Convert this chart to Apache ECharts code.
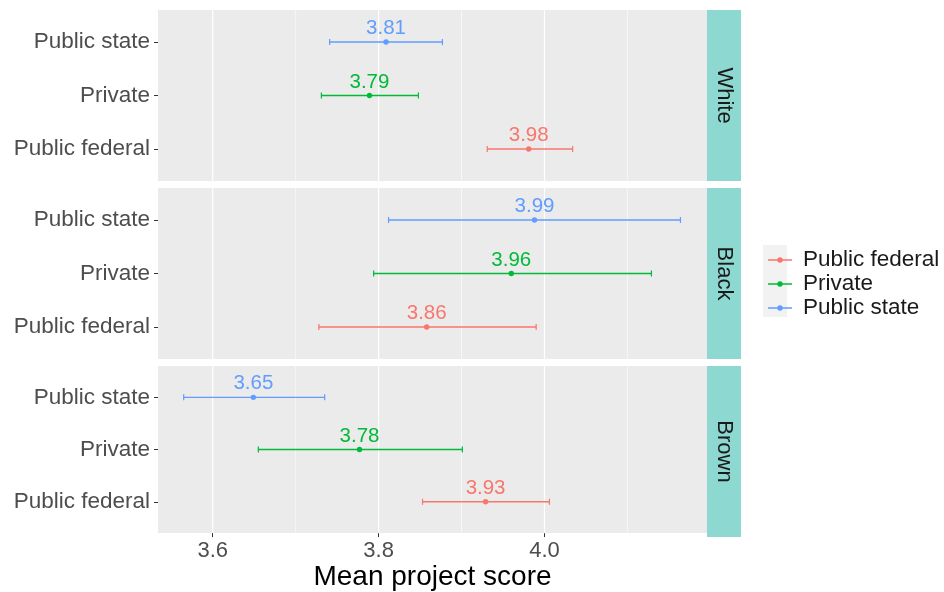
<!DOCTYPE html>
<html>
<head>
<meta charset="utf-8">
<script src="https://cdn.jsdelivr.net/npm/echarts@6/dist/echarts.min.js"></script>
<style>
  html, body { margin: 0; padding: 0; background: #fff; }
  #chart { width: 944px; height: 592px; }
</style>
</head>
<body>
<div id="chart"></div>
<script>
// facets (top to bottom) and groups (bottom to top inside a panel)
const races = ['White', 'Black', 'Brown'];
const groups = ['Public federal', 'Private', 'Public state'];
const groupColors = ['#F8766D', '#00BA38', '#619CFF'];

// values per race: White, Black, Brown
const fedMean = [3.981, 3.858, 3.929];
const fedLow = [3.931, 3.728, 3.853];
const fedHigh = [4.034, 3.990, 4.006];
const privMean = [3.789, 3.960, 3.777];
const privLow = [3.731, 3.794, 3.655];
const privHigh = [3.848, 4.129, 3.901];
const stateMean = [3.809, 3.988, 3.649];
const stateLow = [3.741, 3.812, 3.565];
const stateHigh = [3.877, 4.164, 3.735];

const xTicks = [3.6, 3.8, 4.0];
const xMinor = [3.7, 3.9, 4.1];
const yTicks = [1, 2, 3];

const FONT = '"Liberation Sans", Arial, sans-serif';
const panelTops = [10, 188, 366];
const panelH = 171;

const means = [fedMean, privMean, stateMean];
const lows = [fedLow, privLow, stateLow];
const highs = [fedHigh, privHigh, stateHigh];

var chart = echarts.init(document.getElementById('chart'));

var grids = [], xAxes = [], yAxes = [], series = [], graphics = [];

races.forEach(function (race, r) {
  var last = r === races.length - 1;
  grids.push({
    left: 158, right: 237, top: panelTops[r], height: panelH,
    show: true, backgroundColor: '#EBEBEB', borderWidth: 0
  });
  xAxes.push({
    gridIndex: r, type: 'value', min: 3.534, max: 4.196,
    axisLine: { show: false },
    splitLine: { show: false },
    axisTick: { show: last, customValues: xTicks, length: 4, lineStyle: { color: '#333' } },
    axisLabel: {
      show: last, customValues: xTicks, margin: 7, fontSize: 22, color: '#4D4D4D', fontFamily: FONT,
      formatter: function (v) { return v.toFixed(1); }
    },
    name: last ? 'Mean project score' : '',
    nameLocation: 'middle', nameGap: 27,
    nameTextStyle: { fontSize: 28, color: '#000', fontFamily: FONT }
  });
  yAxes.push({
    gridIndex: r, type: 'value', min: 0.4, max: 3.6,
    axisLine: { show: false },
    splitLine: { show: false },
    axisTick: { show: true, customValues: yTicks, length: 4, lineStyle: { color: '#333' } },
    axisLabel: {
      customValues: yTicks, margin: 8, fontSize: 22.5, color: '#4D4D4D', fontFamily: FONT,
      formatter: function (v) { return groups[Math.round(v) - 1]; }
    }
  });

  // panel grid lines
  series.push({
    type: 'custom', name: 'gridlines', xAxisIndex: r, yAxisIndex: r, z: 1, silent: true,
    data: xTicks.map(function (v) { return [v, 1]; }).concat(xMinor.map(function (v) { return [v, 0]; })),
    renderItem: function (params, api) {
      var cs = params.coordSys;
      var x = api.coord([api.value(0), 1])[0];
      return {
        type: 'line',
        shape: { x1: x, y1: cs.y, x2: x, y2: cs.y + cs.height },
        style: { stroke: '#FFFFFF', lineWidth: api.value(1) ? 1.2 : 0.6 }
      };
    }
  });

  // error bars, points and value labels
  groups.forEach(function (g, k) {
    var c = groupColors[k];
    series.push({
      type: 'custom', name: g, xAxisIndex: r, yAxisIndex: r, z: 3,
      itemStyle: { color: c },
      data: [[lows[k][r], highs[k][r], means[k][r], k + 1]],
      renderItem: function (params, api) {
        var y = api.value(3);
        var p0 = api.coord([api.value(0), y]);
        var p1 = api.coord([api.value(1), y]);
        var pm = api.coord([api.value(2), y]);
        return {
          type: 'group',
          children: [
            { type: 'rect', shape: { x: p0[0], y: p0[1] - 0.7, width: p1[0] - p0[0], height: 1.4 }, style: { fill: c } },
            { type: 'rect', shape: { x: p0[0] - 0.6, y: p0[1] - 3, width: 1.2, height: 6 }, style: { fill: c } },
            { type: 'rect', shape: { x: p1[0] - 0.6, y: p1[1] - 3, width: 1.2, height: 6 }, style: { fill: c } },
            { type: 'circle', shape: { cx: pm[0], cy: pm[1], r: 2.7 }, style: { fill: c } },
            {
              type: 'text', x: pm[0], y: pm[1] - 13.5,
              style: {
                text: api.value(2).toFixed(2), fill: c, fontSize: 20.5, fontFamily: FONT,
                align: 'center', verticalAlign: 'middle'
              }
            }
          ]
        };
      }
    });
  });

  // facet strip
  graphics.push({
    type: 'rect', left: 707, top: panelTops[r],
    shape: { width: 34, height: panelH },
    style: { fill: '#8DD8D0' }
  });
  graphics.push({
    type: 'text', x: 724, y: panelTops[r] + panelH / 2, rotation: -Math.PI / 2,
    style: {
      text: race, fill: '#1A1A1A', fontSize: 22, fontFamily: FONT,
      align: 'center', verticalAlign: 'middle'
    }
  });
});

// legend key background
graphics.push({
  type: 'rect', left: 763, top: 245, z: -1,
  shape: { width: 24, height: 72 },
  style: { fill: '#F2F2F2' }
});

const keyIcon = 'path://M0,5.3 L24,5.3 L24,6.7 L0,6.7 Z M12,3.3 A2.7,2.7 0 1 1 11.99,3.3 Z';

chart.setOption({
  animation: false,
  grid: grids,
  xAxis: xAxes,
  yAxis: yAxes,
  graphic: graphics,
  legend: {
    orient: 'vertical', left: 763, top: 243,
    itemWidth: 24, itemHeight: 6, itemGap: 0,
    selectedMode: false,
    textStyle: { fontSize: 22.5, color: '#1A1A1A', fontFamily: FONT, lineHeight: 24, padding: [0, 0, 0, 6] },
    data: groups.map(function (g, k) {
      return { name: g, icon: keyIcon, itemStyle: { color: groupColors[k] } };
    })
  },
  series: series
});
</script>
</body>
</html>
